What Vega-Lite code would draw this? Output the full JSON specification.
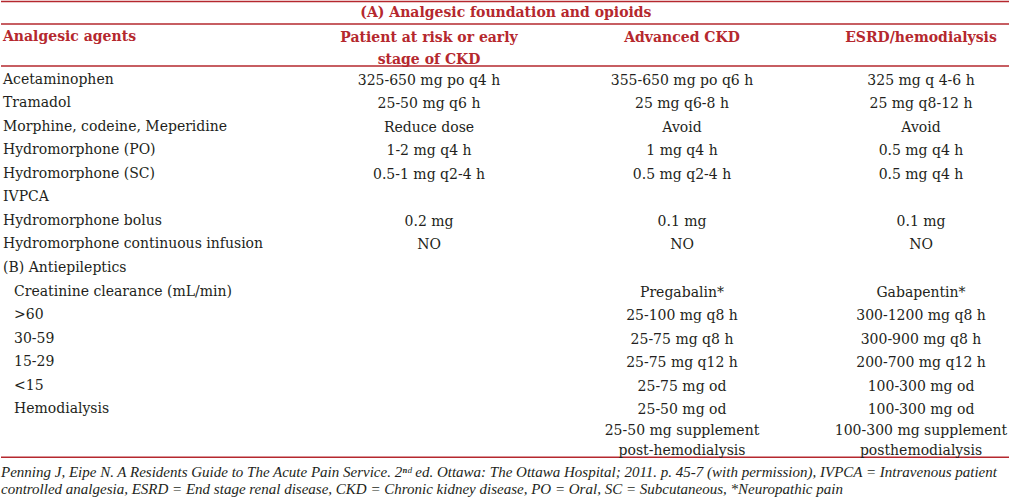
{
  "$schema": "https://vega.github.io/schema/vega-lite/v6.json",
  "width": 1010,
  "height": 498,
  "autosize": {"type": "fit", "contains": "padding"},
  "padding": 0,
  "background": "white",
  "view": {"stroke": null},
  "datasets": {
    "rules": [{"row": -2.34}, {"row": -1.383}, {"row": 0.404}, {"row": 17.05}],
    "cells": [
      {"kind": "title", "row": -1.851, "col": 1.304, "level": 0, "text": "(A) Analgesic foundation and opioids"},
      {"kind": "head", "row": -0.83, "col": 0, "level": 0, "text": "Analgesic agents"},
      {"kind": "head", "row": -0.83, "col": 1, "level": 0, "text": "Patient at risk or early\nstage of CKD"},
      {"kind": "head", "row": -0.83, "col": 2, "level": 0, "text": "Advanced CKD"},
      {"kind": "head", "row": -0.83, "col": 3, "level": 0, "text": "ESRD/hemodialysis"},
      {"kind": "body", "row": 1, "col": 0, "level": 0, "text": "Acetaminophen"},
      {"kind": "body", "row": 1, "col": 1, "level": 0, "text": "325-650 mg po q4 h"},
      {"kind": "body", "row": 1, "col": 2, "level": 0, "text": "355-650 mg po q6 h"},
      {"kind": "body", "row": 1, "col": 3, "level": 0, "text": "325 mg q 4-6 h"},
      {"kind": "body", "row": 2, "col": 0, "level": 0, "text": "Tramadol"},
      {"kind": "body", "row": 2, "col": 1, "level": 0, "text": "25-50 mg q6 h"},
      {"kind": "body", "row": 2, "col": 2, "level": 0, "text": "25 mg q6-8 h"},
      {"kind": "body", "row": 2, "col": 3, "level": 0, "text": "25 mg q8-12 h"},
      {"kind": "body", "row": 3, "col": 0, "level": 0, "text": "Morphine, codeine, Meperidine"},
      {"kind": "body", "row": 3, "col": 1, "level": 0, "text": "Reduce dose"},
      {"kind": "body", "row": 3, "col": 2, "level": 0, "text": "Avoid"},
      {"kind": "body", "row": 3, "col": 3, "level": 0, "text": "Avoid"},
      {"kind": "body", "row": 4, "col": 0, "level": 0, "text": "Hydromorphone (PO)"},
      {"kind": "body", "row": 4, "col": 1, "level": 0, "text": "1-2 mg q4 h"},
      {"kind": "body", "row": 4, "col": 2, "level": 0, "text": "1 mg q4 h"},
      {"kind": "body", "row": 4, "col": 3, "level": 0, "text": "0.5 mg q4 h"},
      {"kind": "body", "row": 5, "col": 0, "level": 0, "text": "Hydromorphone (SC)"},
      {"kind": "body", "row": 5, "col": 1, "level": 0, "text": "0.5-1 mg q2-4 h"},
      {"kind": "body", "row": 5, "col": 2, "level": 0, "text": "0.5 mg q2-4 h"},
      {"kind": "body", "row": 5, "col": 3, "level": 0, "text": "0.5 mg q4 h"},
      {"kind": "body", "row": 6, "col": 0, "level": 0, "text": "IVPCA"},
      {"kind": "body", "row": 7, "col": 0, "level": 0, "text": "Hydromorphone bolus"},
      {"kind": "body", "row": 7, "col": 1, "level": 0, "text": "0.2 mg"},
      {"kind": "body", "row": 7, "col": 2, "level": 0, "text": "0.1 mg"},
      {"kind": "body", "row": 7, "col": 3, "level": 0, "text": "0.1 mg"},
      {"kind": "body", "row": 8, "col": 0, "level": 0, "text": "Hydromorphone continuous infusion"},
      {"kind": "body", "row": 8, "col": 1, "level": 0, "text": "NO"},
      {"kind": "body", "row": 8, "col": 2, "level": 0, "text": "NO"},
      {"kind": "body", "row": 8, "col": 3, "level": 0, "text": "NO"},
      {"kind": "body", "row": 9, "col": 0, "level": 0, "text": "(B) Antiepileptics"},
      {"kind": "body", "row": 10, "col": 0, "level": 1, "text": "Creatinine clearance (mL/min)"},
      {"kind": "body", "row": 10, "col": 2, "level": 0, "text": "Pregabalin*"},
      {"kind": "body", "row": 10, "col": 3, "level": 0, "text": "Gabapentin*"},
      {"kind": "body", "row": 11, "col": 0, "level": 1, "text": ">60"},
      {"kind": "body", "row": 11, "col": 2, "level": 0, "text": "25-100 mg q8 h"},
      {"kind": "body", "row": 11, "col": 3, "level": 0, "text": "300-1200 mg q8 h"},
      {"kind": "body", "row": 12, "col": 0, "level": 1, "text": "30-59"},
      {"kind": "body", "row": 12, "col": 2, "level": 0, "text": "25-75 mg q8 h"},
      {"kind": "body", "row": 12, "col": 3, "level": 0, "text": "300-900 mg q8 h"},
      {"kind": "body", "row": 13, "col": 0, "level": 1, "text": "15-29"},
      {"kind": "body", "row": 13, "col": 2, "level": 0, "text": "25-75 mg q12 h"},
      {"kind": "body", "row": 13, "col": 3, "level": 0, "text": "200-700 mg q12 h"},
      {"kind": "body", "row": 14, "col": 0, "level": 1, "text": "<15"},
      {"kind": "body", "row": 14, "col": 2, "level": 0, "text": "25-75 mg od"},
      {"kind": "body", "row": 14, "col": 3, "level": 0, "text": "100-300 mg od"},
      {"kind": "body", "row": 15, "col": 0, "level": 1, "text": "Hemodialysis"},
      {"kind": "body", "row": 15, "col": 2, "level": 0, "text": "25-50 mg od\n25-50 mg supplement\npost-hemodialysis"},
      {"kind": "body", "row": 15, "col": 3, "level": 0, "text": "100-300 mg od\n100-300 mg supplement\nposthemodialysis"},
      {"kind": "foot", "row": 17.68, "col": 0, "level": 0, "text": "Penning J, Eipe N. A Residents Guide to The Acute Pain Service. 2\u207f\u1d48 ed. Ottawa: The Ottawa Hospital; 2011. p. 45-7 (with permission), IVPCA = Intravenous patient"},
      {"kind": "foot", "row": 18.42, "col": 0, "level": 0, "text": "controlled analgesia, ESRD = End stage renal disease, CKD = Chronic kidney disease, PO = Oral, SC = Subcutaneous, *Neuropathic pain"}
    ]
  },
  "layer": [
    {
      "data": {"name": "rules"},
      "mark": {"type": "rule", "color": "#b5282e", "strokeWidth": 1.4},
      "encoding": {
        "y": {"field": "row", "type": "quantitative", "axis": null,
              "scale": {"domain": [-2.404, 18.787], "reverse": true, "nice": false, "zero": false}}
      }
    },
    {
      "data": {"name": "cells"},
      "transform": [{"filter": "datum.kind == 'title'"}],
      "mark": {"type": "text", "align": "center", "baseline": "middle", "font": "DejaVu Serif", "fontWeight": "bold", "fontSize": 14, "color": "#b5282e"},
      "encoding": {
        "x": {"field": "col", "type": "quantitative", "axis": null,
              "scale": {"domain": [0, 1, 2, 3], "range": [2, 428, 681, 920], "nice": false, "zero": false}},
        "y": {"field": "row", "type": "quantitative", "axis": null,
              "scale": {"domain": [-2.404, 18.787], "reverse": true, "nice": false, "zero": false}},
        "text": {"field": "text"}
      }
    },
    {
      "data": {"name": "cells"},
      "transform": [{"filter": "datum.kind == 'head' && datum.col == 0"}],
      "mark": {"type": "text", "align": "left", "baseline": "middle", "font": "DejaVu Serif", "fontWeight": "bold", "fontSize": 14, "color": "#b5282e"},
      "encoding": {
        "x": {"field": "col", "type": "quantitative", "axis": null,
              "scale": {"domain": [0, 1, 2, 3], "range": [2, 428, 681, 920], "nice": false, "zero": false}},
        "y": {"field": "row", "type": "quantitative", "axis": null,
              "scale": {"domain": [-2.404, 18.787], "reverse": true, "nice": false, "zero": false}},
        "text": {"field": "text"}
      }
    },
    {
      "data": {"name": "cells"},
      "transform": [{"filter": "datum.kind == 'head' && datum.col > 0"}],
      "mark": {"type": "text", "align": "center", "baseline": "alphabetic", "dy": 5, "lineBreak": "\n", "lineHeight": 22, "font": "DejaVu Serif", "fontWeight": "bold", "fontSize": 14, "color": "#b5282e"},
      "encoding": {
        "x": {"field": "col", "type": "quantitative", "axis": null,
              "scale": {"domain": [0, 1, 2, 3], "range": [2, 428, 681, 920], "nice": false, "zero": false}},
        "y": {"field": "row", "type": "quantitative", "axis": null,
              "scale": {"domain": [-2.404, 18.787], "reverse": true, "nice": false, "zero": false}},
        "text": {"field": "text"}
      }
    },
    {
      "data": {"name": "cells"},
      "transform": [{"filter": "datum.kind == 'body' && datum.col == 0 && datum.level == 0"}],
      "mark": {"type": "text", "align": "left", "baseline": "middle", "font": "DejaVu Serif", "fontSize": 14, "color": "#231f20"},
      "encoding": {
        "x": {"field": "col", "type": "quantitative", "axis": null,
              "scale": {"domain": [0, 1, 2, 3], "range": [2, 428, 681, 920], "nice": false, "zero": false}},
        "y": {"field": "row", "type": "quantitative", "axis": null,
              "scale": {"domain": [-2.404, 18.787], "reverse": true, "nice": false, "zero": false}},
        "text": {"field": "text"}
      }
    },
    {
      "data": {"name": "cells"},
      "transform": [{"filter": "datum.kind == 'body' && datum.col == 0 && datum.level == 1"}],
      "mark": {"type": "text", "align": "left", "baseline": "middle", "dx": 11, "font": "DejaVu Serif", "fontSize": 14, "color": "#231f20"},
      "encoding": {
        "x": {"field": "col", "type": "quantitative", "axis": null,
              "scale": {"domain": [0, 1, 2, 3], "range": [2, 428, 681, 920], "nice": false, "zero": false}},
        "y": {"field": "row", "type": "quantitative", "axis": null,
              "scale": {"domain": [-2.404, 18.787], "reverse": true, "nice": false, "zero": false}},
        "text": {"field": "text"}
      }
    },
    {
      "data": {"name": "cells"},
      "transform": [{"filter": "datum.kind == 'body' && datum.col > 0"}],
      "mark": {"type": "text", "align": "center", "baseline": "alphabetic", "dy": 5, "lineBreak": "\n", "lineHeight": 20.5, "font": "DejaVu Serif", "fontSize": 14, "color": "#231f20"},
      "encoding": {
        "x": {"field": "col", "type": "quantitative", "axis": null,
              "scale": {"domain": [0, 1, 2, 3], "range": [2, 428, 681, 920], "nice": false, "zero": false}},
        "y": {"field": "row", "type": "quantitative", "axis": null,
              "scale": {"domain": [-2.404, 18.787], "reverse": true, "nice": false, "zero": false}},
        "text": {"field": "text"}
      }
    },
    {
      "data": {"name": "cells"},
      "transform": [{"filter": "datum.kind == 'foot'"}],
      "mark": {"type": "text", "align": "left", "baseline": "middle", "dx": -2, "font": "Liberation Serif", "fontStyle": "italic", "fontSize": 15, "color": "#231f20"},
      "encoding": {
        "x": {"field": "col", "type": "quantitative", "axis": null,
              "scale": {"domain": [0, 1, 2, 3], "range": [2, 428, 681, 920], "nice": false, "zero": false}},
        "y": {"field": "row", "type": "quantitative", "axis": null,
              "scale": {"domain": [-2.404, 18.787], "reverse": true, "nice": false, "zero": false}},
        "text": {"field": "text"}
      }
    }
  ]
}
